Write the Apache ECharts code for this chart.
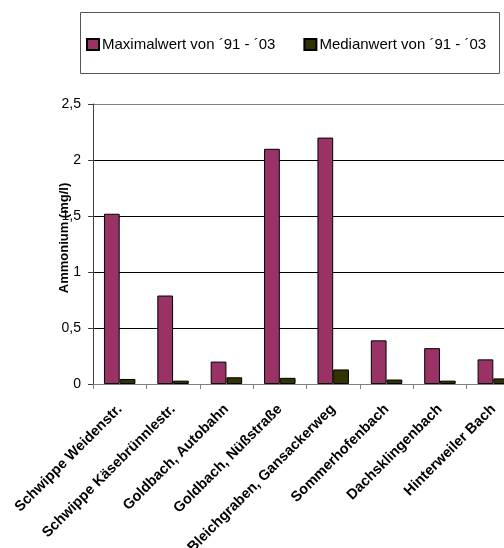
<!DOCTYPE html>
<html>
<head>
<meta charset="utf-8">
<script src="https://cdn.jsdelivr.net/npm/echarts@6/dist/echarts.min.js"></script>
<style>
  html, body { margin: 0; padding: 0; background: #fff; }
  #chart { width: 504px; height: 548px; }
</style>
</head>
<body>
<div id="chart"></div>
<script>
// Messstellen
const categories = [
  'Schwippe Weidenstr.',
  'Schwippe Käsebrünnlestr.',
  'Goldbach, Autobahn',
  'Goldbach, Nüßstraße',
  'Bleichgraben, Gansackerweg',
  'Sommerhofenbach',
  'Dachsklingenbach',
  'Hinterweiler Bach'
];
// Ammonium in mg/l
const maxValues = [1.52, 0.79, 0.20, 2.10, 2.20, 0.39, 0.32, 0.22];
const medianValues = [0.045, 0.03, 0.06, 0.055, 0.13, 0.04, 0.03, 0.05];
const seriesNames = ['Maximalwert von \u00b491 - \u00b403', 'Medianwert von \u00b491 - \u00b403'];
const yTicks = { min: 0, max: 2.5, interval: 0.5 };

const font = 'Arial, "Liberation Sans", sans-serif';
const chart = echarts.init(document.getElementById('chart'), null, { renderer: 'canvas' });

chart.setOption({
  backgroundColor: '#ffffff',
  animation: false,
  textStyle: { fontFamily: font },
  graphic: [{
    type: 'rect',
    shape: { x: 80.5, y: 12.5, width: 419, height: 61 },
    style: { fill: '#ffffff', stroke: '#555555', lineWidth: 1 },
    z: 0
  }],
  legend: {
    left: 81,
    top: 32,
    itemWidth: 12,
    itemHeight: 11,
    itemGap: 28,
    icon: 'rect',
    textStyle: { fontFamily: font, fontSize: 15, color: '#000', padding: [0, 0, 0, -2] },
    data: seriesNames
  },
  grid: { left: 93, top: 104, width: 427, height: 280, outerBoundsMode: 'none', containLabel: false },
  xAxis: {
    type: 'category',
    data: categories,
    axisLine: { lineStyle: { color: '#808080', width: 1 } },
    axisTick: { show: true, length: 5, lineStyle: { color: '#808080' } },
    axisLabel: {
      interval: 0,
      rotate: 45,
      margin: 23,
      fontFamily: font,
      fontSize: 14.5,
      fontWeight: 'bold',
      color: '#000'
    }
  },
  yAxis: {
    type: 'value',
    min: yTicks.min,
    max: yTicks.max,
    interval: yTicks.interval,
    name: 'Ammonium (mg/l)',
    nameLocation: 'middle',
    nameGap: 22,
    nameMoveOverlap: false,
    nameTextStyle: { fontFamily: font, fontSize: 13, fontWeight: 'bold', color: '#000', padding: [0, 0, 0, 12] },
    axisLine: { show: true, lineStyle: { color: '#404040', width: 1 } },
    axisTick: { show: true, length: 5, lineStyle: { color: '#404040' } },
    axisLabel: {
      margin: 12,
      fontFamily: font,
      fontSize: 14,
      color: '#000',
      formatter: v => String(v).replace('.', ',')
    },
    splitLine: {
      show: true,
      lineStyle: { color: ['#808080', '#000', '#000', '#000', '#000', '#808080'], width: 1 }
    }
  },
  series: [
    {
      name: seriesNames[0],
      type: 'bar',
      data: maxValues,
      barGap: '0%',
      barCategoryGap: '41%',
      itemStyle: { color: '#993366', borderColor: '#000', borderWidth: 1 }
    },
    {
      name: seriesNames[1],
      type: 'bar',
      data: medianValues,
      barGap: '0%',
      barCategoryGap: '41%',
      itemStyle: { color: '#333300', borderColor: '#000', borderWidth: 1 }
    }
  ]
});
</script>
</body>
</html>
